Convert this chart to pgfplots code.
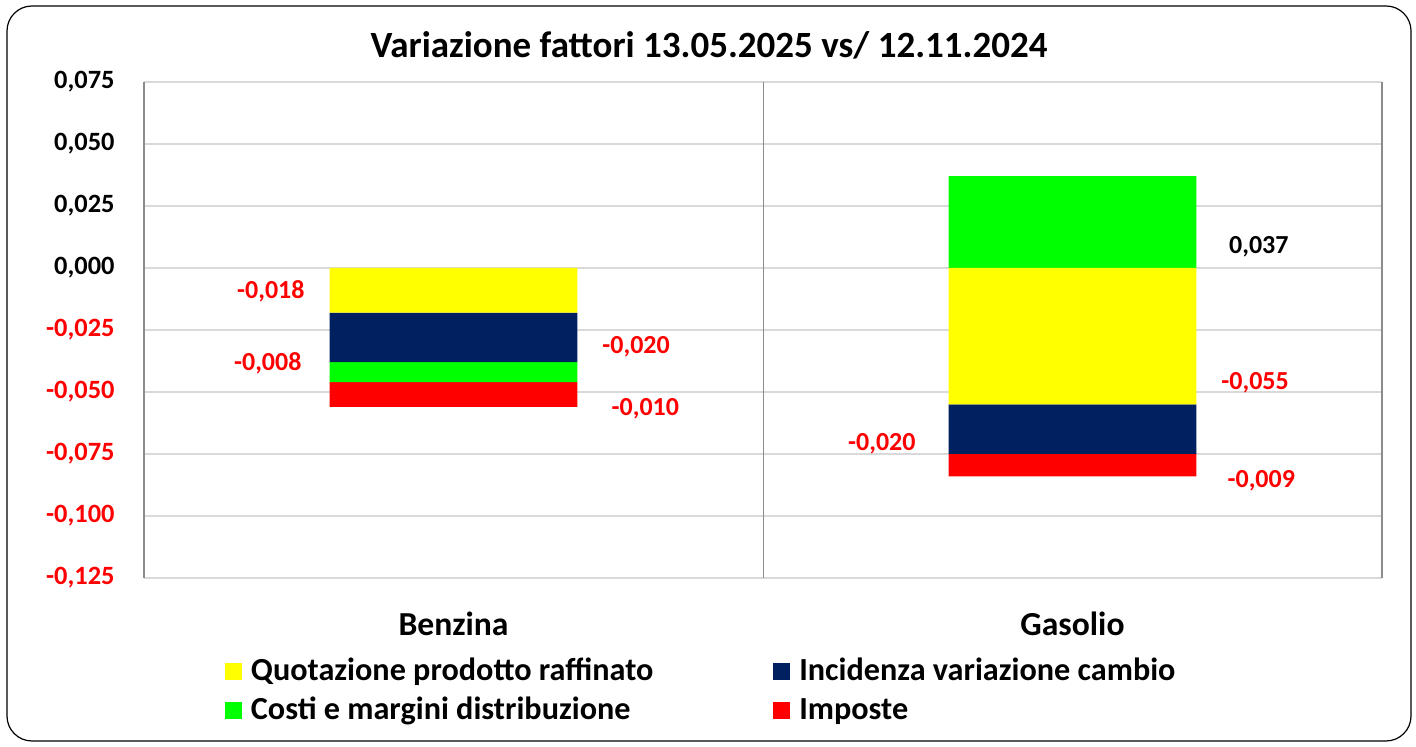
\documentclass[border=0pt]{standalone}
\usepackage{pgfplots}
\pgfplotsset{compat=1.18}
\usepackage{fontspec}
\setmainfont{Carlito}
\definecolor{cyel}{HTML}{FFFF00}
\definecolor{cnavy}{HTML}{002060}
\definecolor{cgreen}{HTML}{00FF00}
\definecolor{cred}{HTML}{FF0000}
\definecolor{gridc}{HTML}{D9D9D9}
\definecolor{axc}{HTML}{8C8C8C}
\tikzset{lbl/.style={font=\bfseries\fontsize{13}{15}\selectfont}}
\begin{document}
\begin{tikzpicture}[x=1pt,y=1pt]
\path[use as bounding box] (0,0) rectangle (708,373.5);
\draw[black, line width=0.6pt, rounded corners=12.5pt] (3.5,3) rectangle (705.5,370.5);
\node[font=\bfseries\fontsize{18.5}{22}\selectfont] at (354.5,351) {Variazione fattori 13.05.2025 vs/ 12.11.2024};
\begin{axis}[
  at={(72pt,84.5pt)}, anchor=south west,
  scale only axis, width=619pt, height=248pt,
  ybar stacked, bar width=0.4,
  xmin=-0.5, xmax=1.5, ymin=-0.125, ymax=0.075,
  xtick={0,1}, xticklabels={Benzina,Gasolio},
  extra x ticks={0.5}, extra x tick labels={},
  extra x tick style={grid=major, major grid style={axc, line width=0.5pt}},
  ytick={-0.125,-0.1,-0.075,-0.05,-0.025,0,0.025,0.05,0.075},
  yticklabels={{\textcolor{cred}{-0,125}},{\textcolor{cred}{-0,100}},{\textcolor{cred}{-0,075}},{\textcolor{cred}{-0,050}},{\textcolor{cred}{-0,025}},{0,000},{0,025},{0,050},{0,075}},
  ymajorgrids, major grid style={gridc, line width=0.75pt},
  major tick length=0pt,
  separate axis lines,
  x axis line style={gridc, line width=0.75pt},
  y axis line style={axc, line width=0.6pt},
  yticklabel style={font=\bfseries\fontsize{13.2}{15}\selectfont, xshift=-11.2pt},
  xticklabel style={font=\bfseries\fontsize{16.8}{20}\selectfont, yshift=-13.4pt},
  clip=false,
  legend columns=2,
  legend cell align=left,
  legend image code/.code={\fill[#1] (0pt,-3.75pt) rectangle (8.5pt,4.75pt);},
  legend style={at={(0.0654,-0.1613)}, anchor=north west, draw=none, fill=none,
    inner sep=0pt, outer sep=0pt,
    font=\bfseries\fontsize{16.1}{18}\selectfont,
    column sep=0pt,
    /tikz/every odd column/.append style={column sep=4.5pt},
    /tikz/every even column/.append style={column sep=60pt},
    row sep=5pt, nodes={inner sep=0pt, text height=11pt, text depth=3.5pt}},
]
\addplot[fill=cyel, draw=none] coordinates {(0,-0.018) (1,-0.055)};
\addlegendentry{Quotazione prodotto raffinato}
\addplot[fill=cnavy, draw=none] coordinates {(0,-0.020) (1,-0.020)};
\addlegendentry{Incidenza variazione cambio}
\addplot[fill=cgreen, draw=none] coordinates {(0,-0.008) (1,0.037)};
\addlegendentry{Costi e margini distribuzione}
\addplot[fill=cred, draw=none] coordinates {(0,-0.010) (1,-0.009)};
\addlegendentry{Imposte}
\node[lbl, text=cred] at (axis cs:-0.295,-0.0093) {-0,018};
\node[lbl, text=cred] at (axis cs:0.295,-0.0319) {-0,020};
\node[lbl, text=cred] at (axis cs:-0.30,-0.0383) {-0,008};
\node[lbl, text=cred] at (axis cs:0.31,-0.0569) {-0,010};
\node[lbl, text=black] at (axis cs:1.301,0.0085) {0,037};
\node[lbl, text=cred] at (axis cs:1.295,-0.0464) {-0,055};
\node[lbl, text=cred] at (axis cs:0.692,-0.071) {-0,020};
\node[lbl, text=cred] at (axis cs:1.305,-0.0859) {-0,009};
\end{axis}
\end{tikzpicture}
\end{document}
